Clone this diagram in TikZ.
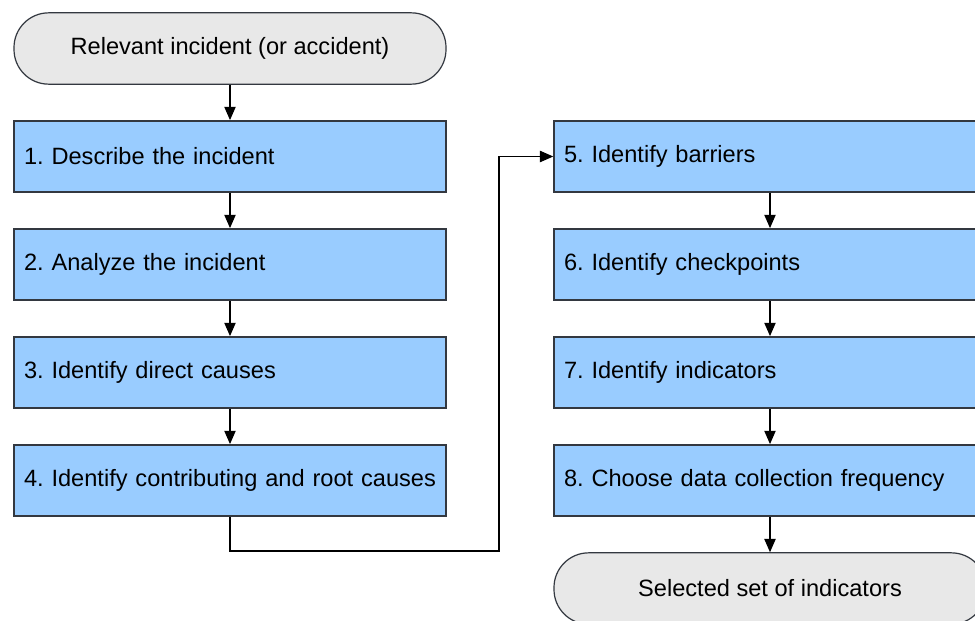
\documentclass[tikz,border=0pt]{standalone}
\usepackage{fontspec}
\setmainfont{Liberation Sans}
\usepackage{tikz}
\usetikzlibrary{positioning, arrows.meta}
\definecolor{stepblue}{HTML}{99CCFF}
\definecolor{termgray}{HTML}{E8E8E8}
\definecolor{edgegray}{HTML}{333840}
\frenchspacing

\begin{document}
\begin{tikzpicture}[x=0.75pt,y=-0.75pt,
  stepbox/.style={draw=edgegray, fill=stepblue, line width=1.1pt, minimum width=324pt, minimum height=53.5pt,
    text width=309pt, inner xsep=7.5pt, inner ysep=0pt, align=left, font=\fontsize{17.7}{20}\selectfont},
  termbox/.style={draw=edgegray, fill=termgray, line width=0.9pt, rounded corners=26pt, minimum width=324pt,
    minimum height=53.5pt, align=center, font=\fontsize{17.7}{20}\selectfont},
  flow/.style={-{Triangle[length=10pt,width=8.5pt]}, line width=0.9pt}]
\useasboundingbox (0,0) rectangle (975,621);
\clip (0,0) rectangle (975,621);
\fill[white] (0,0) rectangle (975,621);
% left column
\node[termbox] (start) at (230,48.5) {Relevant incident (or accident)};
\node[stepbox] (s1) at (230,156.5) {1. Describe the incident};
\node[stepbox] (s2) at (230,264.5) {2. Analyze the incident};
\node[stepbox] (s3) at (230,372.5) {3. Identify direct causes};
\node[stepbox] (s4) at (230,480.5) {\mbox{4. Identify contributing and root causes}};
% right column
\node[stepbox] (s5) at (770,156.5) {5. Identify barriers};
\node[stepbox] (s6) at (770,264.5) {6. Identify checkpoints};
\node[stepbox] (s7) at (770,372.5) {7. Identify indicators};
\node[stepbox] (s8) at (770,480.5) {8. Choose data collection frequency};
\node[termbox] (stop) at (770,588.5) {Selected set of indicators};
\coordinate (turn) at (499,551);
% connectors
\draw[flow] (start) -- (s1);
\draw[flow] (s1) -- (s2);
\draw[flow] (s2) -- (s3);
\draw[flow] (s3) -- (s4);
\draw[flow] (s4.south) |- (turn) |- (s5.west);
\draw[flow] (s5) -- (s6);
\draw[flow] (s6) -- (s7);
\draw[flow] (s7) -- (s8);
\draw[flow] (s8) -- (stop);
\end{tikzpicture}
\end{document}
